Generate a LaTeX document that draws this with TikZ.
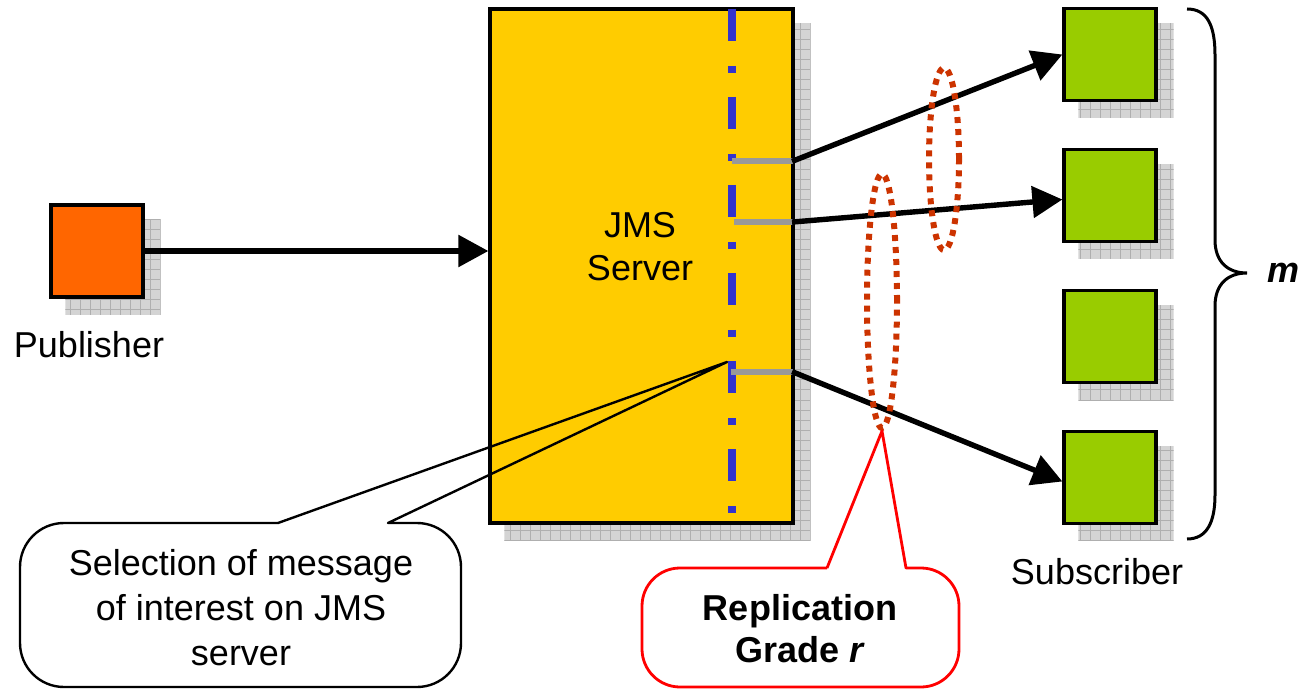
\documentclass[tikz,border=0pt]{standalone}
\usepackage{fontspec}
\setmainfont{Liberation Sans}
\usetikzlibrary{arrows.meta,shapes.geometric,backgrounds,calc}

\definecolor{pubfill}{HTML}{FF6600}
\definecolor{srvfill}{HTML}{FFCC00}
\definecolor{subfill}{HTML}{99CC00}
\definecolor{selblue}{HTML}{3333CC}
\definecolor{stubgray}{HTML}{999999}
\definecolor{replred}{HTML}{CC3300}
\definecolor{shadefill}{HTML}{D4D4D4}
\definecolor{shadegrid}{HTML}{AFAFAF}

\tikzset{
  box/.style={draw=black, line width=1.6pt, inner sep=0pt, minimum width=46pt, minimum height=46pt},
  flow/.style={line width=2.7pt, -{Triangle[length=15pt,width=15.5pt]}, shorten <=-0.5pt},
  stub/.style={draw=stubgray, line width=2.8pt},
  replring/.style={ellipse, draw=replred, line width=3pt, dash pattern=on 3pt off 3pt, inner sep=0pt},
  label/.style={font=\fontsize{18}{21}\selectfont, inner sep=0pt, align=center},
  bubble/.style={line width=1.2pt, line join=round}
}

\begin{document}
\begin{tikzpicture}[x=0.5pt, y=-0.5pt]
\useasboundingbox (0,0) rectangle (1300,689);

% publisher, server and subscribers
\node[box, fill=pubfill] (pub) at (97,251) {};
\node[box, fill=srvfill, minimum width=151.5pt, minimum height=257pt] (jms) at (641.5,266) {};
\foreach \n/\y in {1/54.5, 2/195.5, 3/336.5, 4/477.5}
  \node[box, fill=subfill] (s\n) at (1110,\y) {};

% grid shadows behind the boxes
\begin{pgfonlayer}{background}
  \foreach \n in {pub, jms, s1, s2, s3, s4} {
    \begin{scope}
      \clip ([shift={(16,16)}]\n.north west) rectangle ([shift={(16,16)}]\n.south east);
      \fill[shadefill] ([shift={(16,16)}]\n.north west) rectangle ([shift={(16,16)}]\n.south east);
      \draw[shadegrid, line width=0.5pt] ([shift={(16,16)}]\n.north west) grid[step=5pt] ([shift={(16,16)}]\n.south east);
    \end{scope}
  }
\end{pgfonlayer}

% labels
\node[label] (publbl) at (89,345) {Publisher};
\node[label] (sublbl) at (1097,572) {Subscriber};
\node[label, font=\fontsize{18}{21.5}\selectfont] (jmslbl) at (640,247) {JMS\\Server};
\node[label, font=\fontsize{18}{21}\selectfont\bfseries\itshape] (mlbl) at (1283,273) {m};

% selection line inside the server
\coordinate (selTop) at (732,9);
\coordinate (selBot) at (732,513);
\draw[selblue, line width=4pt, dash pattern=on 16pt off 12.5pt on 3.5pt off 12pt] (selTop) -- (selBot);

% outgoing stubs
\coordinate (o1) at (732,161);
\coordinate (o2) at (734,222);
\coordinate (o3) at (731,372);
\coordinate (e1) at (793,161);
\coordinate (e2) at (793,222);
\coordinate (e3) at (793,372);
\draw[stub] (o1) -- (e1);
\draw[stub] (o2) -- (e2);
\draw[stub] (o3) -- (e3);

% message flow
\draw[flow] (pub.east) -- (pub.east -| jms.west);
\draw[flow] (e1) -- (s1.west);
\draw[flow] (e2) -- ([yshift=-2]s2.west);
\draw[flow] (e3) -- ([yshift=-2]s4.west);

% replication rings
\node[replring, minimum width=15pt, minimum height=91pt] (ringA) at (944,159) {};
\node[replring, minimum width=15pt, minimum height=127pt] (ringB) at (882,301) {};

% brace over the subscribers
\coordinate (brTop) at (1187,9);
\coordinate (brTip) at (1247,273);
\coordinate (brBot) at (1187,539);
\draw[line width=1.5pt]
  (brTop) .. controls (1207,9) and (1215,25) .. (1215,55)
  -- (1215,240)
  .. controls (1215,262) and (1228,273) .. (brTip)
  .. controls (1228,273) and (1215,284) .. (1215,306)
  -- (1215,495)
  .. controls (1215,522) and (1207,539) .. (brBot);

% callout: selection of messages
\coordinate (selTip) at (727,362);
\node[label, font=\fontsize{18}{22.5}\selectfont] (seltxt) at (241,608)
  {Selection of message\\of interest on JMS\\server};
\draw[bubble] (278,523) -- (selTip) -- (388,523)
  [rounded corners=22pt] -- (461,523) -- (461,687) -- (20,687) -- (20,523) -- (200,523)
  [sharp corners] -- (278,523);

% callout: replication grade
\node[label, font=\fontsize{18}{21}\selectfont\bfseries] (repltxt) at (800,629)
  {Replication\\Grade \textit{r}};
\draw[bubble, red, line width=1.4pt] (827,568) -- (ringB.south) -- (906,568)
  [rounded corners=19pt] -- (959,568) -- (959,687) -- (642,687) -- (642,568) -- (760,568)
  [sharp corners] -- (827,568);
\end{tikzpicture}
\end{document}
